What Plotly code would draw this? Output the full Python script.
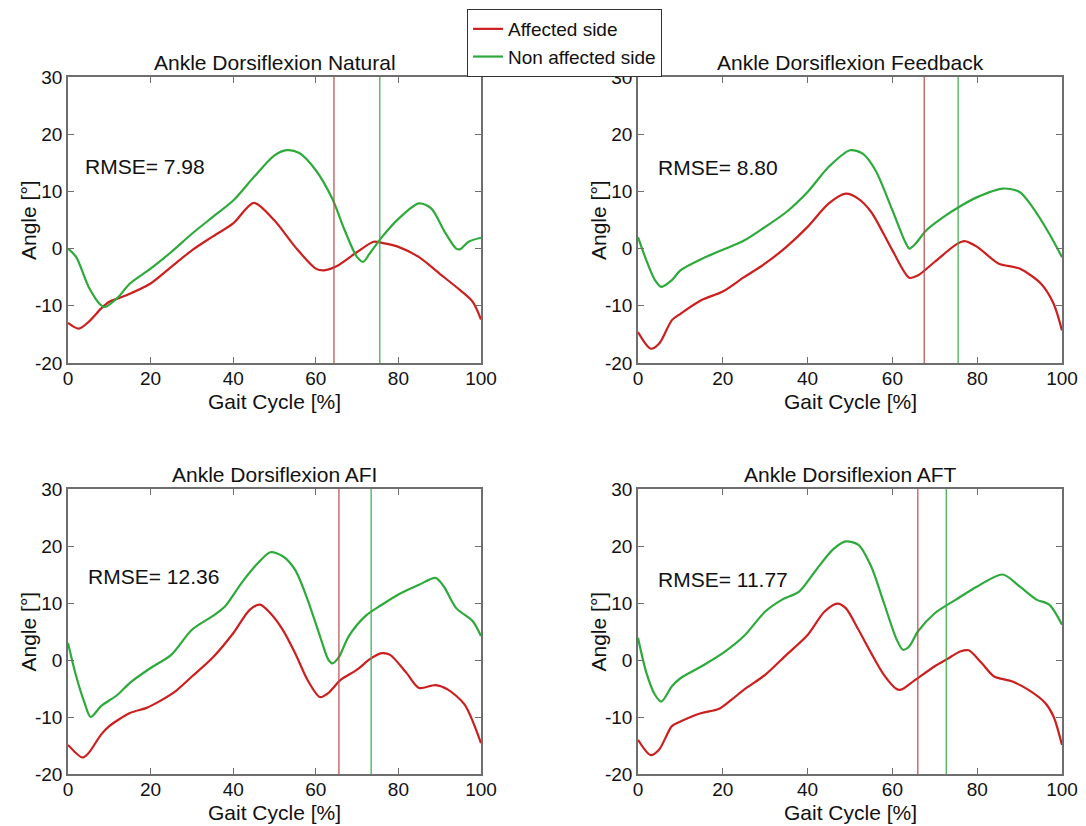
import plotly.graph_objects as go

# ---------------- data ----------------
titles = ["Ankle Dorsiflexion Natural", "Ankle Dorsiflexion Feedback",
          "Ankle Dorsiflexion AFI", "Ankle Dorsiflexion AFT"]
rmse = ["RMSE= 7.98", "RMSE= 8.80", "RMSE= 12.36", "RMSE= 11.77"]
rmse_pos = [(3.7, 14.3), (4.3, 14.1), (4.4, 14.6), (4.3, 14.2)]
event_affected = [64.4, 67.5, 65.6, 66.0]
event_nonaffected = [75.5, 75.5, 73.4, 72.7]

nat_aff_x = [0, 2.6, 5, 8, 10, 14, 20, 25, 30, 35, 40, 45, 50, 55, 60, 62, 65, 70, 74, 76, 80, 85, 90, 95, 98, 100]
nat_aff_y = [-13.0, -14.0, -12.8, -10.5, -9.3, -8.2, -6.1, -3.2, -0.3, 2.1, 4.4, 8.0, 4.9, 0.3, -3.5, -3.8, -3.1, -0.6, 1.2, 1.0, 0.3, -1.5, -4.4, -7.3, -9.3, -12.4]
nat_non_x = [0, 2, 5, 8, 9, 12, 15, 20, 25, 30, 35, 40, 45, 50, 53, 56, 60, 64, 67, 70, 71.5, 73, 76, 80, 85, 88, 91, 94, 95, 97, 100]
nat_non_y = [0.0, -1.5, -6.7, -9.9, -10.2, -8.6, -6.1, -3.5, -0.6, 2.6, 5.5, 8.4, 12.5, 16.3, 17.2, 16.7, 13.7, 8.7, 3.2, -1.5, -2.3, -0.9, 2.0, 5.2, 7.9, 7.0, 3.2, 0.0, -0.1, 1.2, 1.9]

fb_aff_x = [0, 3, 5, 8, 10, 15, 20, 25, 30, 35, 40, 45, 49, 52, 55, 60, 64, 66, 70, 75, 77, 80, 85, 90, 95, 98, 100]
fb_aff_y = [-14.6, -17.5, -16.6, -12.5, -11.4, -9.0, -7.5, -5.0, -2.6, 0.3, 3.8, 7.9, 9.6, 8.7, 6.4, -0.3, -5.1, -4.7, -2.3, 0.7, 1.3, 0.3, -2.6, -3.5, -6.1, -9.6, -14.3]
fb_non_x = [0, 2, 4, 5.5, 8, 10, 15, 20, 25, 30, 35, 40, 45, 50, 53, 56, 60, 63, 64, 65.5, 68, 72, 76, 80, 86, 90, 93, 97, 100]
fb_non_y = [2.0, -2.1, -5.5, -6.7, -5.5, -3.8, -1.8, -0.2, 1.4, 3.8, 6.4, 9.9, 14.3, 17.2, 16.6, 13.7, 6.7, 1.2, 0.0, 0.9, 3.2, 5.5, 7.4, 9.0, 10.5, 9.9, 7.3, 2.6, -1.5]

afi_aff_x = [0, 3.5, 5, 8, 10, 15, 19, 22, 26, 30, 35, 40, 44, 46.5, 49, 52, 55, 58, 61, 63, 66, 70, 73, 76, 78, 82, 85, 89, 92, 96, 100]
afi_aff_y = [-14.9, -17.1, -16.3, -13.1, -11.6, -9.3, -8.4, -7.3, -5.5, -2.9, 0.4, 4.7, 8.8, 9.7, 8.2, 5.3, 1.2, -3.5, -6.5, -5.8, -3.5, -1.7, 0.1, 1.2, 0.9, -2.3, -4.9, -4.4, -5.2, -7.8, -14.6]
afi_non_x = [0, 2, 4, 5.5, 8, 12, 15, 20, 25, 30, 35, 38, 42, 46, 49, 52, 55, 58, 61, 63, 64, 65.5, 68, 72, 76, 80, 85, 89, 91, 94, 98, 100]
afi_non_y = [3.0, -2.9, -7.5, -10.0, -8.1, -6.1, -4.0, -1.4, 0.9, 5.3, 7.7, 9.4, 13.5, 17.0, 18.9, 18.2, 15.8, 10.6, 4.2, 0.1, -0.6, 0.4, 4.2, 7.7, 9.7, 11.5, 13.2, 14.4, 12.9, 9.1, 6.8, 4.2]

aft_aff_x = [0, 3, 5, 8, 10, 15, 19, 22, 25, 30, 35, 40, 44, 47, 49, 52, 55, 58, 61, 62, 65, 70, 73, 76, 78, 81, 84, 88, 92, 96, 98, 100]
aft_aff_y = [-14.0, -16.7, -15.7, -11.6, -10.8, -9.3, -8.6, -7.0, -5.2, -2.6, 0.9, 4.4, 8.5, 9.9, 9.1, 5.3, 1.2, -2.6, -5.1, -5.2, -3.7, -1.1, 0.2, 1.5, 1.7, -0.5, -2.9, -3.7, -5.2, -7.5, -9.9, -14.9]
aft_non_x = [0, 2, 4, 5.5, 8, 10, 15, 20, 25, 30, 34, 38, 42, 46, 49, 52, 55, 58, 61, 62.5, 64, 66, 70, 75, 80, 86, 90, 94, 97, 100]
aft_non_y = [3.9, -2.3, -6.1, -7.3, -4.6, -3.2, -1.1, 1.2, 4.2, 8.5, 10.6, 12.0, 15.8, 19.4, 20.8, 20.2, 16.4, 10.0, 3.6, 1.8, 2.4, 5.0, 8.2, 10.6, 12.9, 15.0, 12.9, 10.6, 9.7, 6.2]

affected = [(nat_aff_x, nat_aff_y), (fb_aff_x, fb_aff_y), (afi_aff_x, afi_aff_y), (aft_aff_x, aft_aff_y)]
nonaffected = [(nat_non_x, nat_non_y), (fb_non_x, fb_non_y), (afi_non_x, afi_non_y), (aft_non_x, aft_non_y)]

x_ticks = [0, 20, 40, 60, 80, 100]
x_ticklabels = ["0", "20", "40", "60", "80", "100"]
y_ticks = [-20, -10, 0, 10, 20, 30]
y_ticklabels = ["-20", "-10", "0", "10", "20", "30"]

# ---------------- style ----------------
RED = "#cc1f1f"
GREEN = "#2eaa3c"
VRED = "#b84a4a"
VGREEN = "#3aa94a"
FRAME = "#6e6e6e"
FONT = "Liberation Sans, Arial, sans-serif"
TXT = "#111111"

W, H = 1086, 826
xdoms = [(68 / W, 481 / W), (638 / W, 1062 / W)]
ydoms = [(1 - 363 / H, 1 - 77 / H), (1 - 774 / H, 1 - 489 / H)]

fig = go.Figure()
annotations = []

for i in range(4):
    row, col = divmod(i, 2)
    n = i + 1
    xa = "x" if n == 1 else f"x{n}"
    ya = "y" if n == 1 else f"y{n}"
    xkey = "xaxis" if n == 1 else f"xaxis{n}"
    ykey = "yaxis" if n == 1 else f"yaxis{n}"

    ax, ay = affected[i]
    nx, ny = nonaffected[i]
    fig.add_trace(go.Scatter(x=ax, y=ay, mode="lines", line=dict(color=RED, width=2.2, shape="spline", smoothing=0.8),
                             name="Affected side", showlegend=(i == 0), xaxis=xa, yaxis=ya, legendrank=1))
    fig.add_trace(go.Scatter(x=nx, y=ny, mode="lines", line=dict(color=GREEN, width=2.2, shape="spline", smoothing=0.8),
                             name="Non affected side", showlegend=(i == 0), xaxis=xa, yaxis=ya, legendrank=2))

    # gait event vertical lines (full height)
    fig.add_trace(go.Scatter(x=[event_affected[i], event_affected[i]], y=[-20, 30], mode="lines",
                             line=dict(color=VRED, width=1.2), showlegend=False, xaxis=xa, yaxis=ya, hoverinfo="skip"))
    fig.add_trace(go.Scatter(x=[event_nonaffected[i], event_nonaffected[i]], y=[-20, 30], mode="lines",
                             line=dict(color=VGREEN, width=1.2), showlegend=False, xaxis=xa, yaxis=ya, hoverinfo="skip"))

    common = dict(showgrid=False, zeroline=False, showline=True, linecolor=FRAME, linewidth=1.5,
                  mirror="ticks", ticks="inside", ticklen=6, tickcolor=FRAME, tickwidth=1,
                  automargin=False, tickmode="array",
                  tickfont=dict(family=FONT, size=19, color=TXT))
    fig.layout[xkey] = dict(domain=list(xdoms[col]), range=[0, 100], tickvals=x_ticks, ticktext=x_ticklabels,
                            anchor=ya, ticklabelstandoff=-3, **common)
    fig.layout[ykey] = dict(domain=list(ydoms[row]), range=[-20, 30], tickvals=y_ticks, ticktext=y_ticklabels,
                            anchor=xa, **common)

    # subplot title
    annotations.append(dict(text=titles[i], xref=f"{xa} domain", yref=f"{ya} domain", x=0.5, y=1,
                            yanchor="bottom", xanchor="center", yshift=1, showarrow=False,
                            font=dict(family=FONT, size=21, color=TXT)))
    # x axis title
    annotations.append(dict(text="Gait Cycle [%]", xref=f"{xa} domain", yref=f"{ya} domain", x=0.5, y=0,
                            yanchor="middle", xanchor="center", yshift=-38, showarrow=False,
                            font=dict(family=FONT, size=21, color=TXT)))
    # y axis title
    annotations.append(dict(text="Angle [°]", xref=f"{xa} domain", yref=f"{ya} domain", x=0, y=0.5,
                            yanchor="middle", xanchor="center", xshift=-40, textangle=-90, showarrow=False,
                            font=dict(family=FONT, size=21, color=TXT)))
    # RMSE
    annotations.append(dict(text=rmse[i], xref=xa, yref=ya, x=rmse_pos[i][0], y=rmse_pos[i][1],
                            xanchor="left", yanchor="middle", showarrow=False,
                            font=dict(family=FONT, size=21, color=TXT)))

fig.update_layout(
    template="none",
    width=W, height=H,
    margin=dict(l=0, r=0, t=0, b=0, autoexpand=False),
    paper_bgcolor="white", plot_bgcolor="white",
    annotations=annotations,
    legend=dict(x=467 / W, y=1 - 9 / H, xanchor="left", yanchor="top",
                bgcolor="white", bordercolor="#333333", borderwidth=1,
                font=dict(family=FONT, size=19, color=TXT),
                tracegroupgap=0, itemwidth=30),
    showlegend=True,
)

fig.write_html("out.html")
